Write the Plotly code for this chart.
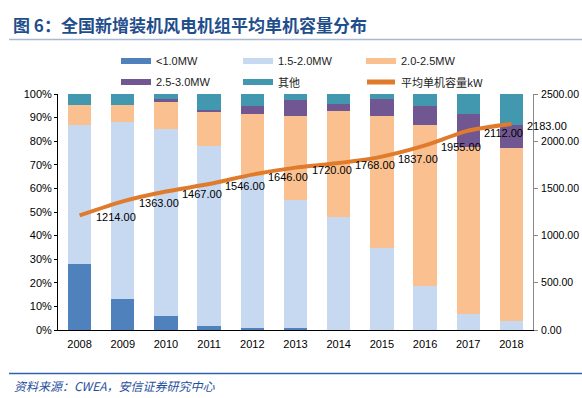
import plotly.graph_objects as go

years = ["2008", "2009", "2010", "2011", "2012", "2013", "2014", "2015", "2016", "2017", "2018"]
lt10 = [27.8, 13.0, 5.9, 1.8, 0.8, 0.8, 0.2, 0.0, 0.0, 0.0, 0.0]
mw15_20 = [59.2, 75.3, 79.3, 76.1, 64.4, 54.1, 47.5, 34.9, 18.6, 6.9, 3.8]
mw20_25 = [8.2, 6.9, 11.7, 14.8, 26.3, 35.6, 45.0, 55.6, 68.4, 70.8, 73.2]
mw25_30 = [0.0, 0.0, 0.8, 0.7, 3.3, 7.1, 2.9, 7.2, 7.8, 14.0, 10.0]
other = [4.8, 4.8, 2.3, 6.6, 5.2, 2.4, 4.4, 2.3, 5.2, 8.3, 13.0]
avg_kw = [1214, 1363, 1467, 1546, 1646, 1720, 1768, 1837, 1955, 2112, 2183]

pct_ticks = list(range(0, 101, 10))
pct_labels = [f"{v}%" for v in pct_ticks]
kw_ticks = [0, 500, 1000, 1500, 2000, 2500]
kw_labels = [f"{v:.2f}" for v in kw_ticks]

names = ["<1.0MW", "1.5-2.0MW", "2.0-2.5MW", "2.5-3.0MW", "其他"]
colors = ["#4F81BD", "#C6D9F1", "#FAC090", "#715792", "#4198AF"]
series = [lt10, mw15_20, mw20_25, mw25_30, other]
line_name = "平均单机容量kW"
line_color = "#E07B2C"

W, H = 582, 398
L, R, T, B = 58, 533, 94, 330

def px(x):
    return (x - L) / (R - L)

def py(y):
    return (B - y) / (B - T)

LATIN = "Liberation Sans, Arial, sans-serif"
CJK = "Noto Sans CJK SC, sans-serif"

fig = go.Figure()
for n, c, s in zip(names, colors, series):
    fig.add_trace(go.Bar(x=years, y=s, name=n, marker=dict(color=c, line=dict(width=0)),
                         showlegend=False))
fig.add_trace(go.Scatter(x=years, y=avg_kw, yaxis="y2", mode="lines", name=line_name,
                         line=dict(color=line_color, width=4, shape="spline", smoothing=0.6),
                         showlegend=False))

annotations = []
for i, v in enumerate(avg_kw):
    annotations.append(dict(x=i, y=v, xref="x", yref="y2", text=f"{v:.2f}", showarrow=False,
                            xanchor="left", yanchor="middle", xshift=14, yshift=-2,
                            font=dict(family=LATIN, size=11, color="#000")))

shapes = []
# legend
leg_cols = [121, 243, 366]
leg_rows = [61, 82]
entries = list(zip(names, colors)) + [(line_name, line_color)]
for i, (n, c) in enumerate(entries):
    xx = leg_cols[i % 3]
    yy = leg_rows[i // 3]
    if n == line_name:
        shapes.append(dict(type="line", xref="paper", yref="paper", x0=px(xx + 1), x1=px(xx + 29),
                           y0=py(yy), y1=py(yy), line=dict(color=c, width=5)))
    else:
        shapes.append(dict(type="rect", xref="paper", yref="paper", x0=px(xx), x1=px(xx + 30),
                           y0=py(yy - 3), y1=py(yy + 3), fillcolor=c, line=dict(width=0)))
    fam = CJK if any(ord(ch) > 127 for ch in n) else LATIN
    annotations.append(dict(x=px(xx + 33), y=py(yy), xref="paper", yref="paper", text=n,
                            showarrow=False, xanchor="left", yanchor="middle",
                            font=dict(family=fam, size=11, color="#222")))

# title and rules
annotations.append(dict(x=px(11), y=py(25), xref="paper", yref="paper",
                        text="<b>图 6：全国新增装机风电机组平均单机容量分布</b>", showarrow=False,
                        xanchor="left", yanchor="middle",
                        font=dict(family=CJK, size=17, color="#1F4E8C")))
shapes.append(dict(type="line", xref="paper", yref="paper", x0=px(9), x1=px(582),
                   y0=py(39.5), y1=py(39.5), line=dict(color="#A9B9D2", width=1.5)))
shapes.append(dict(type="line", xref="paper", yref="paper", x0=px(9), x1=px(582),
                   y0=py(373.5), y1=py(373.5), line=dict(color="#2F62B0", width=1.5)))
annotations.append(dict(x=px(12), y=py(385), xref="paper", yref="paper",
                        text="<i>资料来源：CWEA，安信证券研究中心</i>", showarrow=False,
                        xanchor="left", yanchor="middle",
                        font=dict(family=CJK, size=12, color="#1F4E9C")))

fig.update_layout(
    width=W, height=H,
    margin=dict(l=L, r=W - R, t=T, b=H - B),
    paper_bgcolor="white", plot_bgcolor="white",
    barmode="stack", bargap=0.46,
    font=dict(family=LATIN, size=11, color="#000"),
    xaxis=dict(type="category", range=[-0.5, 10.5], showline=True, linecolor="#000",
               linewidth=1, ticks="", showgrid=False, tickfont=dict(size=11),
               ticklabelstandoff=4, automargin=False),
    yaxis=dict(range=[0, 100], tickvals=pct_ticks, ticktext=pct_labels, showline=True,
               linecolor="#000", linewidth=1, ticks="outside", ticklen=3, tickcolor="#000",
               showgrid=False, zeroline=False, tickfont=dict(size=11), automargin=False),
    yaxis2=dict(range=[0, 2500], tickvals=kw_ticks, ticktext=kw_labels, overlaying="y",
                side="right", showline=True, linecolor="#888", linewidth=1, ticks="outside",
                ticklen=4, tickcolor="#888", showgrid=False, zeroline=False,
                tickfont=dict(size=10.5), ticklabelstandoff=1, automargin=False),
    showlegend=False,
    annotations=annotations, shapes=shapes,
)

fig.write_html("out.html", config={"displayModeBar": False},
               post_script="document.body.style.margin='0';document.body.style.overflow='hidden';")
